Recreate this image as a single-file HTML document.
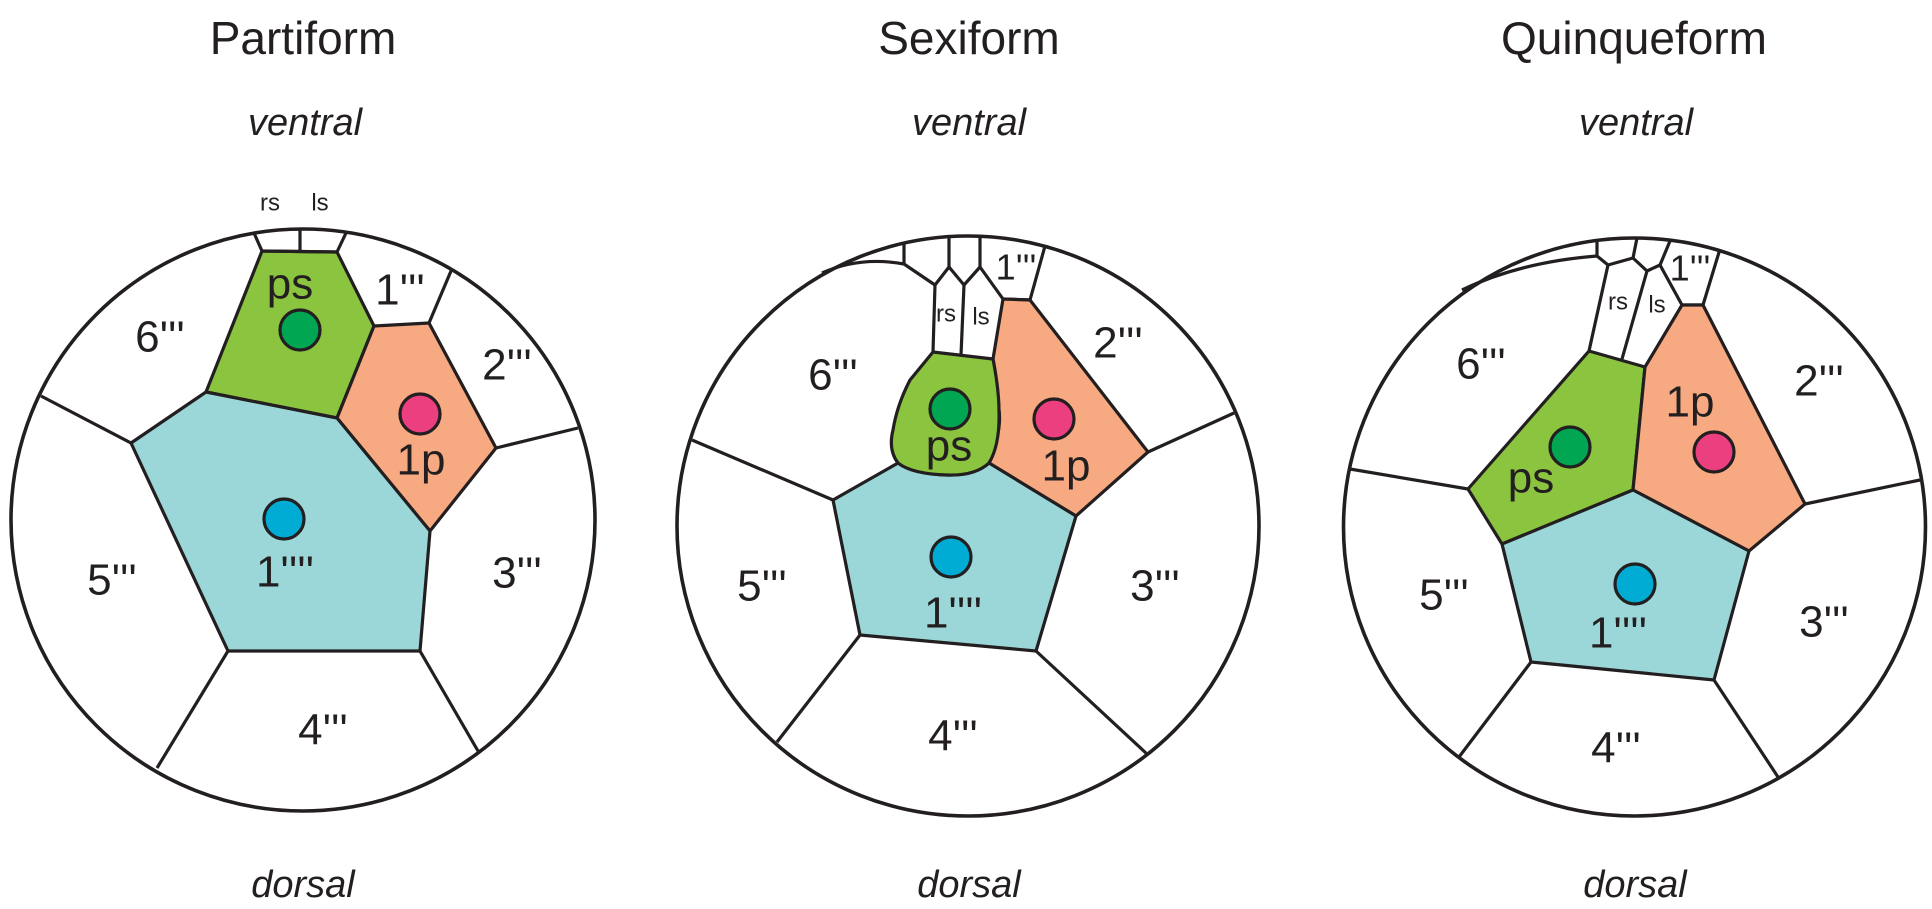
<!DOCTYPE html>
<html><head><meta charset="utf-8"><style>
html,body{margin:0;padding:0;background:#fff;}
svg{display:block;}
text{font-family:"Liberation Sans",Arial,sans-serif;fill:#231f20;text-anchor:middle;dominant-baseline:central;}
.t{font-size:46px;}
.i{font-size:38px;font-style:italic;}
.l{font-size:44px;}
.s{font-size:24px;}
.p{stroke:#231f20;stroke-width:3.2;stroke-linejoin:round;}
</style></head><body>
<svg width="1932" height="909" viewBox="0 0 1932 909" xmlns="http://www.w3.org/2000/svg">
<!-- ===== Partiform ===== -->
<ellipse cx="303" cy="520" rx="292" ry="291" fill="#fff" class="p" style="stroke-width:3.6"/>
<polygon points="262,251 337,252 374,326 337,418 206,392" fill="#8bc43f" class="p"/>
<polygon points="374,326 429,323 496,448 430,531 337,418" fill="#f7a982" class="p"/>
<polygon points="206,392 337,418 430,531 420,651 228,651 131,443" fill="#9bd7d8" class="p"/>
<polyline class="p" fill="none" points="254,233 262,251 337,252 346,233"/>
<line class="p" x1="300" y1="230" x2="300" y2="251"/>
<polyline class="p" fill="none" points="429,323 451,271"/>
<line class="p" x1="496" y1="448" x2="578" y2="428"/>
<line class="p" x1="131" y1="443" x2="41" y2="396"/>
<line class="p" x1="228" y1="651" x2="157" y2="768"/>
<line class="p" x1="420" y1="651" x2="478" y2="751"/>
<circle cx="300" cy="330" r="20" fill="#00a651" class="p"/>
<circle cx="420" cy="414" r="20" fill="#ec3f7f" class="p"/>
<circle cx="284" cy="519" r="20" fill="#00acd4" class="p"/>
<text class="t" x="303" y="38">Partiform</text>
<text class="i" x="305" y="123">ventral</text>
<text class="i" x="303" y="885">dorsal</text>
<text class="s" x="270" y="203">rs</text>
<text class="s" x="320" y="203">ls</text>
<text class="l" x="290" y="284">ps</text>
<text class="l" x="400" y="290">1'''</text>
<text class="l" x="160" y="337">6'''</text>
<text class="l" x="507" y="365">2'''</text>
<text class="l" x="421" y="460">1p</text>
<text class="l" x="285" y="572">1''''</text>
<text class="l" x="112" y="580">5'''</text>
<text class="l" x="517" y="573">3'''</text>
<text class="l" x="323" y="730">4'''</text>

<!-- ===== Sexiform ===== -->
<ellipse cx="968" cy="526" rx="291" ry="290" fill="#fff" class="p" style="stroke-width:3.6"/>
<path class="p" fill="none" d="M822,273 Q860,256 904,264"/>
<polyline class="p" fill="none" points="904,242 904,264 935,285 949,267 964,285 980,267 1003,299 1030,300 1045,246"/>
<line class="p" x1="949" y1="236" x2="949" y2="267"/>
<line class="p" x1="980" y1="237" x2="980" y2="267"/>
<line class="p" x1="935" y1="285" x2="933" y2="352"/>
<line class="p" x1="964" y1="285" x2="961" y2="355"/>
<path class="p" fill="#f7a982" d="M1030,300 L1148,452 L1076,516 L989,463 Q1002,430 999,410 Q997,380 993,359 L1003,299 Z"/>
<path class="p" fill="#9bd7d8" d="M898,463 L833,500 L860,635 L1036,651 L1076,516 L989,463 Q975,476 947,475 Q915,474 898,463 Z"/>
<path class="p" fill="#8bc43f" d="M933,352 L993,359 Q999,390 999,411 Q1000,445 989,463 Q975,476 947,475 Q912,474 898,463 Q888,450 893,430 Q897,405 910,380 Z"/>
<line class="p" x1="1148" y1="452" x2="1234" y2="413"/>
<line class="p" x1="833" y1="500" x2="692" y2="440"/>
<line class="p" x1="860" y1="635" x2="777" y2="742"/>
<line class="p" x1="1036" y1="651" x2="1147" y2="754"/>
<circle cx="950" cy="409" r="20" fill="#00a651" class="p"/>
<circle cx="1054" cy="419" r="20" fill="#ec3f7f" class="p"/>
<circle cx="951" cy="557" r="20" fill="#00acd4" class="p"/>
<text class="t" x="969" y="38">Sexiform</text>
<text class="i" x="969" y="123">ventral</text>
<text class="i" x="969" y="885">dorsal</text>
<text class="s" x="946" y="314">rs</text>
<text class="s" x="981" y="317">ls</text>
<text class="l" x="1016" y="267" style="font-size:36px">1'''</text>
<text class="l" x="833" y="375">6'''</text>
<text class="l" x="1118" y="343">2'''</text>
<text class="l" x="949" y="446">ps</text>
<text class="l" x="1066" y="466">1p</text>
<text class="l" x="762" y="586">5'''</text>
<text class="l" x="953" y="613">1''''</text>
<text class="l" x="1155" y="586">3'''</text>
<text class="l" x="953" y="736">4'''</text>

<!-- ===== Quinqueform ===== -->
<ellipse cx="1634.5" cy="527" rx="291" ry="289" fill="#fff" class="p" style="stroke-width:3.6"/>
<path class="p" fill="none" d="M1462,290 Q1520,262 1597,256"/>
<polyline class="p" fill="none" points="1597,239 1597,256 1608,265 1633,258 1637,238"/>
<polyline class="p" fill="none" points="1633,258 1647,271 1660,265 1670,241"/>
<polyline class="p" fill="none" points="1660,265 1682,305 1703,305 1720,249"/>
<line class="p" x1="1608" y1="265" x2="1589" y2="351"/>
<line class="p" x1="1647" y1="271" x2="1622" y2="359"/>
<polygon class="p" fill="#8bc43f" points="1589,351 1645,367 1633,490 1502,544 1468,489"/>
<polygon class="p" fill="#f7a982" points="1645,367 1682,305 1703,305 1805,504 1749,551 1633,490"/>
<polygon class="p" fill="#9bd7d8" points="1502,544 1633,490 1749,551 1714,680 1531,662"/>
<line class="p" x1="1468" y1="489" x2="1350" y2="469"/>
<line class="p" x1="1531" y1="662" x2="1459" y2="757"/>
<line class="p" x1="1714" y1="680" x2="1778" y2="777"/>
<line class="p" x1="1805" y1="504" x2="1920" y2="480"/>
<circle cx="1570" cy="447" r="20" fill="#00a651" class="p"/>
<circle cx="1714" cy="452" r="20" fill="#ec3f7f" class="p"/>
<circle cx="1635" cy="584" r="20" fill="#00acd4" class="p"/>
<text class="t" x="1634" y="38">Quinqueform</text>
<text class="i" x="1636" y="123">ventral</text>
<text class="i" x="1635" y="885">dorsal</text>
<text class="s" x="1618" y="302">rs</text>
<text class="s" x="1657" y="305">ls</text>
<text class="l" x="1690" y="268" style="font-size:36px">1'''</text>
<text class="l" x="1481" y="364">6'''</text>
<text class="l" x="1819" y="381">2'''</text>
<text class="l" x="1690" y="402">1p</text>
<text class="l" x="1531" y="478">ps</text>
<text class="l" x="1444" y="595">5'''</text>
<text class="l" x="1618" y="633">1''''</text>
<text class="l" x="1824" y="622">3'''</text>
<text class="l" x="1616" y="748">4'''</text>
</svg>
</body></html>
